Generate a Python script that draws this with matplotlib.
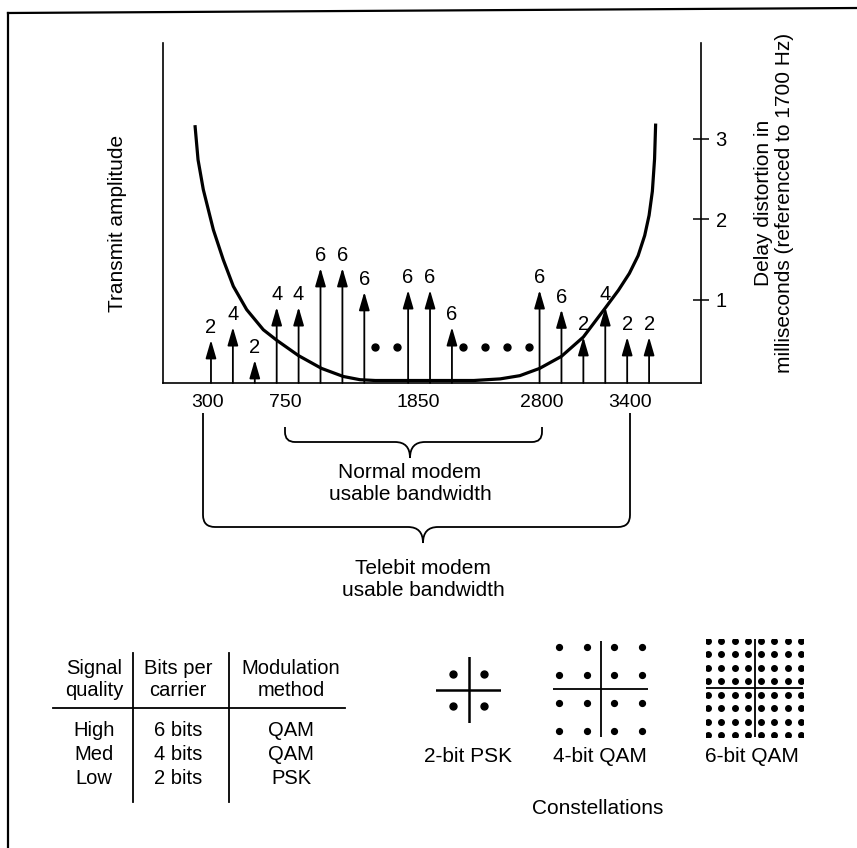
import matplotlib
matplotlib.use("Agg")
import matplotlib.pyplot as plt
from matplotlib.path import Path
from matplotlib.patches import PathPatch
import numpy as np

plt.rcParams['font.family'] = ['Liberation Sans', 'DejaVu Sans']

# carriers (slot index along the band), bits per carrier, transmit amplitude
slots = [0, 1, 2, 3, 4, 5, 6, 7, 9, 10, 11, 15, 16, 17, 18, 19, 20]
bits = [2, 4, 2, 4, 4, 6, 6, 6, 6, 6, 6, 6, 6, 2, 4, 2, 2]
amplitude = [1.87, 2.43, 1.0, 3.3, 3.3, 5.0, 5.0, 3.96, 4.04, 4.04, 2.43,
             4.04, 3.2, 2.0, 3.3, 2.0, 2.0]

# omitted carriers shown as dots
gap_slots = [7.5, 8.5, 11.5, 12.5, 13.5, 14.5]
gap_level = 1.57

# band edge labels (Hz) and the slot where each label sits
band_labels = ['300', '750', '1850', '2800', '3400']
band_label_slot = [-0.14, 3.38, 9.45, 15.11, 19.13]

# delay distortion curve (ms, referenced to 1700 Hz)
delay_slot = [-0.73, -0.59, -0.35, 0.11, 0.56, 1.02, 1.63, 2.39, 3.0, 3.99,
              5.05, 6.04, 6.8, 7.5, 9.0, 12.0, 13.2, 14.1, 15.0, 16.0, 17.0,
              18.0, 18.6, 19.1, 19.5, 19.8, 20.0, 20.15, 20.25, 20.3]
delay_ms = [3.17, 2.74, 2.37, 1.87, 1.50, 1.17, 0.88, 0.63, 0.50, 0.31,
            0.15, 0.05, 0.01, 0.0, 0.0, 0.0, 0.02, 0.06, 0.15, 0.30, 0.54,
            0.90, 1.12, 1.33, 1.55, 1.80, 2.05, 2.35, 2.75, 3.19]
delay_ticks = [1, 2, 3]

# table
table_head = ['Signal\nquality', 'Bits per\ncarrier', 'Modulation\nmethod']
quality = ['High', 'Med', 'Low']
bits_text = ['6 bits', '4 bits', '2 bits']
method = ['QAM', 'QAM', 'PSK']

# constellations: amplitude levels on each axis
psk_levels = [-1, 1]
qam16_levels = [-3, -1, 1, 3]
qam64_levels = [-7, -5, -3, -1, 1, 3, 5, 7]
const_names = ['2-bit PSK', '4-bit QAM', '6-bit QAM']

W, H = 857, 848
fig = plt.figure(figsize=(W / 100, H / 100), dpi=100)
fig.patch.set_facecolor('white')

# overlay in pixel coordinates for frame, brackets and table
ov = fig.add_axes([0, 0, 1, 1])
ov.set_xlim(0, W)
ov.set_ylim(H, 0)
ov.axis('off')

ov.plot([8, 8], [13, H], color='black', lw=1.6)
ov.plot([8, W], [13, 8], color='black', lw=1.6)


def px_axes(x0, y0, x1, y1):
    return fig.add_axes([x0 / W, 1 - y1 / H, (x1 - x0) / W, (y1 - y0) / H])


# main chart
ax = px_axes(163, 43, 701, 383)
ax.patch.set_alpha(0)
ax.set_xlim(-2.19, 22.37)
ax.set_ylim(0, 340 / 23)
for s in ['top', 'right']:
    ax.spines[s].set_visible(False)
ax.spines['left'].set_linewidth(1.2)
ax.spines['bottom'].set_linewidth(1.2)
ax.set_yticks([])
ax.set_xticks(band_label_slot, band_labels)
ax.tick_params(axis='x', length=0, pad=8, labelsize=14)

for k, a, b in zip(slots, amplitude, bits):
    ax.annotate('', xy=(k, a), xytext=(k, 0),
                arrowprops=dict(arrowstyle='-|>,head_length=1.1,head_width=0.32',
                                color='black', lw=1.3, shrinkA=0, shrinkB=0,
                                mutation_scale=10))
    ax.annotate(str(b), xy=(k, a), xytext=(0, 2), textcoords='offset points',
                ha='center', va='bottom', fontsize=14.5)

ax.plot(gap_slots, [gap_level] * len(gap_slots), 'o', color='black', ms=5)
ax.set_ylabel('Transmit amplitude', fontsize=15, va='center')
ax.yaxis.set_label_coords(-0.085, 0.47)

ax2 = ax.twinx()
ax2.set_ylim(-0.031, 4.19)
for s in ['top', 'left', 'bottom']:
    ax2.spines[s].set_visible(False)
ax2.spines['right'].set_linewidth(1.2)
ax2.plot(delay_slot, delay_ms, color='black', lw=2.3, solid_capstyle='butt',
         solid_joinstyle='round')
ax2.set_yticks(delay_ticks)
ax2.tick_params(axis='y', direction='inout', length=11, width=1.1, pad=5,
                labelsize=14.5)
ax2.set_ylabel('Delay distortion in\nmilliseconds (referenced to 1700 Hz)',
               fontsize=15, rotation=90, ha='center', va='center',
               multialignment='center', linespacing=1.1)
ax2.yaxis.set_label_coords(1.136, 0.53)


def brace(x0, x1, xc, ytop, ybar, ytip, r=10, r2=15):
    verts = [(x0, ytop), (x0, ybar - r), (x0, ybar), (x0 + r, ybar),
             (xc - r2, ybar), (xc, ybar), (xc, ytip),
             (xc, ybar), (xc + r2, ybar),
             (x1 - r, ybar), (x1, ybar), (x1, ybar - r), (x1, ytop)]
    codes = [Path.MOVETO, Path.LINETO, Path.CURVE3, Path.CURVE3,
             Path.LINETO, Path.CURVE3, Path.CURVE3,
             Path.CURVE3, Path.CURVE3,
             Path.LINETO, Path.CURVE3, Path.CURVE3, Path.LINETO]
    ov.add_patch(PathPatch(Path(verts, codes), fill=False, lw=1.3,
                           edgecolor='black'))


brace(285, 542, 410, 427, 442, 458)
ov.text(410, 484, 'Normal modem\nusable bandwidth', ha='center', va='center',
        fontsize=15, linespacing=1.2)
brace(203, 630, 423, 413, 527, 543, r=12)
ov.text(423, 580, 'Telebit modem\nusable bandwidth', ha='center', va='center',
        fontsize=15, linespacing=1.2)

# table
col_x = [94, 178, 291]
ov.plot([133, 133], [653, 802], color='black', lw=1.3)
ov.plot([229, 229], [653, 802], color='black', lw=1.3)
ov.plot([53, 345], [708, 708], color='black', lw=1.3)
for cx, t in zip(col_x, table_head):
    ov.text(cx, 680, t, ha='center', va='center', fontsize=14.5,
            linespacing=1.2)
row_y = [730, 754, 779]
for cx, col in zip(col_x, [quality, bits_text, method]):
    for ry, t in zip(row_y, col):
        ov.text(cx, ry, t, ha='center', va='center', fontsize=14.5)


# constellations
def constellation(x0, y0, x1, y1, levels, lim, ms, lw=1.3):
    c = px_axes(x0, y0, x1, y1)
    c.set_xlim(-lim, lim)
    c.set_ylim(-lim, lim)
    c.axis('off')
    c.axhline(0, color='black', lw=lw)
    c.axvline(0, color='black', lw=lw)
    gx, gy = np.meshgrid(levels, levels)
    c.plot(gx.ravel(), gy.ravel(), 'o', color='black', ms=ms)
    return c


constellation(436, 657, 501, 723, psk_levels, 2.1, 5, lw=1.8)
constellation(553, 641, 648, 737, qam16_levels, 3.4, 4.2)
constellation(706, 639, 803, 737, qam64_levels, 7.3, 4.0)

for cx, name in zip([468, 600, 752], const_names):
    ov.text(cx, 757, name, ha='center', va='center', fontsize=15)
ov.text(598, 808, 'Constellations', ha='center', va='center', fontsize=15)

fig.savefig('out.png', dpi=100, facecolor='white')
